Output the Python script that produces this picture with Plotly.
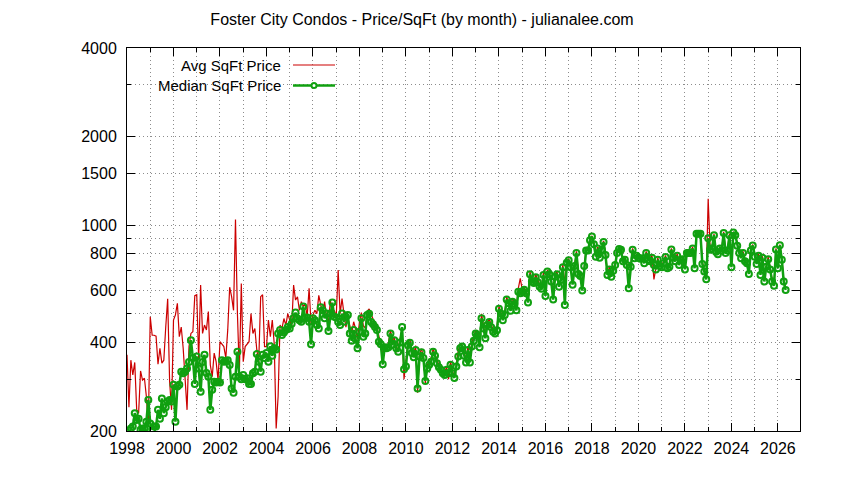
import plotly.graph_objects as go

# monthly values, Jan 1998 .. May 2026 (one row per year)
start_year = 1998

avg_price = [
    363, 241, 348, 310, 342, 236, 230, 320, 298, 302, 262, 207,   # 1998
    489, 423, 423, 420, 337, 382, 340, 348, 451, 563, 294, 236,   # 1999
    476, 496, 543, 418, 451, 382, 300, 236, 387, 429, 435, 577,   # 2000
    581, 348, 626, 429, 458, 441, 509, 335, 306, 368, 344, 298,   # 2001
    402, 396, 387, 354, 441, 616, 572, 514, 1046, 501, 314, 634,  # 2002
    344, 387, 396, 402, 501, 429, 446, 377, 344, 572, 581, 387,   # 2003
    387, 476, 418, 476, 396, 204, 262, 458, 446, 482, 458, 501,   # 2004
    476, 451, 626, 557, 571, 514, 550, 530, 543, 489, 611, 461,   # 2005
    496, 514, 501, 578, 536, 501, 550, 489, 469, 557, 496, 514,   # 2006
    489, 704, 501, 563, 501, 451, 483, 460, 430, 470, 445, 410,   # 2007
    470, 505, 455, 448, 510, 520, 495, 480, 470, 455, 420, 400,   # 2008
    360, 395, 380, 400, 440, 405, 415, 370, 385, 410, 445, 300,   # 2009
    345, 400, 410, 380, 365, 390, 270, 365, 380, 360, 290, 335,   # 2010
    345, 355, 380, 365, 350, 335, 330, 305, 318, 330, 300, 345,   # 2011
    320, 305, 340, 375, 395, 392, 372, 350, 388, 355, 400, 418,   # 2012
    440, 430, 400, 500, 455, 420, 470, 478, 462, 440, 438, 452,   # 2013
    530, 510, 485, 505, 570, 548, 520, 565, 550, 525, 610, 660,   # 2014
    605, 615, 600, 560, 695, 655, 645, 680, 650, 630, 620, 690,   # 2015
    590, 705, 690, 655, 575, 680, 695, 630, 660, 735, 630, 755,   # 2016
    770, 730, 640, 740, 815, 695, 680, 615, 735, 835, 830, 900,   # 2017
    920, 875, 795, 845, 785, 835, 885, 805, 690, 720, 680, 712,   # 2018
    745, 815, 840, 835, 765, 775, 745, 625, 735, 835, 785, 795,   # 2019
    785, 780, 785, 755, 815, 775, 765, 790, 655, 720, 775, 735,   # 2020
    730, 755, 790, 725, 735, 835, 785, 765, 800, 745, 775, 780,   # 2021
    720, 815, 815, 815, 845, 725, 940, 940, 940, 750, 710, 665,   # 2022
    1230, 835, 845, 935, 825, 810, 845, 830, 950, 815, 830, 935,  # 2023
    730, 950, 930, 860, 815, 785, 815, 765, 755, 695, 830, 860,   # 2024
    795, 750, 800, 690, 785, 655, 735, 780, 720, 655, 635, 835,   # 2025
    725, 860, 775, 655, 612,                                      # 2026
]

median_price = [
    190, 195, 204, 207, 230, 218, 220, 202, 204, 204, 215, 255,   # 1998
    212, 203, 207, 207, 236, 220, 258, 230, 241, 252, 255, 252,   # 1999
    287, 215, 283, 287, 318, 314, 318, 326, 343, 407, 354, 289,   # 2000
    358, 326, 272, 343, 363, 315, 306, 236, 276, 294, 292, 294,   # 2001
    292, 348, 344, 345, 348, 335, 279, 270, 306, 372, 306, 300,   # 2002
    310, 300, 302, 289, 289, 314, 318, 365, 344, 318, 363, 354,   # 2003
    368, 344, 388, 360, 382, 378, 429, 441, 424, 432, 441, 451,   # 2004
    446, 463, 484, 505, 482, 476, 470, 530, 483, 486, 470, 394,   # 2005
    483, 476, 458, 446, 527, 514, 483, 501, 437, 501, 546, 489,   # 2006
    486, 469, 458, 501, 470, 489, 496, 429, 405, 441, 410, 382,   # 2007
    435, 483, 418, 429, 496, 500, 469, 461, 451, 441, 402, 394,   # 2008
    337, 385, 382, 385, 429, 392, 407, 382, 372, 400, 451, 324,   # 2009
    331, 392, 399, 368, 356, 377, 279, 358, 370, 354, 296, 326,   # 2010
    336, 344, 372, 360, 340, 329, 323, 314, 310, 323, 314, 336,   # 2011
    314, 303, 331, 358, 382, 387, 360, 342, 377, 342, 387, 405,   # 2012
    429, 423, 385, 483, 446, 413, 458, 469, 450, 435, 429, 440,   # 2013
    520, 501, 476, 496, 559, 543, 512, 550, 540, 514, 594, 587,   # 2014
    594, 604, 587, 546, 682, 644, 636, 666, 640, 618, 608, 678,   # 2015
    575, 697, 682, 644, 559, 669, 682, 618, 652, 720, 536, 745,   # 2016
    760, 720, 628, 727, 805, 683, 672, 600, 727, 820, 820, 890,   # 2017
    915, 862, 782, 834, 776, 826, 877, 792, 678, 708, 669, 700,   # 2018
    733, 805, 830, 826, 754, 764, 733, 611, 723, 826, 773, 787,   # 2019
    776, 770, 773, 743, 805, 764, 754, 776, 733, 708, 764, 727,   # 2020
    720, 743, 780, 714, 723, 827, 776, 754, 787, 733, 764, 767,   # 2021
    708, 805, 805, 805, 834, 714, 935, 935, 935, 738, 697, 655,   # 2022
    904, 826, 834, 925, 812, 797, 834, 820, 941, 805, 820, 925,   # 2023
    720, 945, 925, 851, 805, 773, 805, 754, 743, 683, 820, 853,   # 2024
    782, 738, 787, 678, 776, 644, 723, 767, 708, 644, 623, 827,   # 2025
    714, 855, 764, 644, 603,                                      # 2026
]

x_ticks = list(range(1998, 2027, 2))
y_ticks = [200, 400, 600, 800, 1000, 1500, 2000, 4000]
y_minor = [300, 500, 700, 900, 3000]

months = [start_year + i / 12 for i in range(len(median_price))]

RED = "#cc0000"
GREEN = "#10a010"
GRID = "#8c8c8c"
DOTS = "1px,3px"
FONT = "Liberation Sans"
FS = 16

# the page adds an 8px body margin, so the layout is shifted by that much
W, H = 844, 480
ML, MT, PW, PH = 119, 40, 673, 383

fig = go.Figure()

fig.add_trace(go.Scatter(
    x=months, y=avg_price, mode="lines", name="Avg SqFt Price",
    line=dict(color=RED, width=1.2),
))
fig.add_trace(go.Scatter(
    x=months, y=median_price, mode="lines+markers", name="Median SqFt Price",
    line=dict(color=GREEN, width=2.5),
    marker=dict(symbol="circle-open", size=6, color=GREEN, line=dict(width=2, color=GREEN)),
))

axis_common = dict(
    showline=True, linecolor="black", linewidth=1, mirror="allticks",
    ticks="inside", ticklen=8, tickcolor="black", tickwidth=1,
    showgrid=True, gridcolor=GRID, griddash=DOTS, gridwidth=1,
    zeroline=False, tickfont=dict(family=FONT, size=FS, color="black"),
)

fig.update_xaxes(
    range=[1998, 2026.95], tickmode="array", tickvals=x_ticks,
    ticktext=[str(v) for v in x_ticks], ticklabelstandoff=3,
    minor=dict(dtick=1, tick0=1998, ticks="inside", ticklen=4, tickcolor="black",
               showgrid=True, gridcolor=GRID, griddash=DOTS, gridwidth=1),
    **axis_common,
)
fig.update_yaxes(
    type="log", range=[2.30103, 3.60206], tickmode="array", tickvals=y_ticks,
    ticktext=[str(v) for v in y_ticks], ticklabelstandoff=6,
    minor=dict(tickmode="array", tickvals=y_minor, ticks="inside", ticklen=4,
               tickcolor="black", showgrid=True, gridcolor=GRID, griddash=DOTS, gridwidth=1),
    **axis_common,
)

# gnuplot-style key: text right-aligned, sample to the right
key_text_x = (283 - 127) / PW
key_x0 = (293 - 127) / PW
key_x1 = (335 - 127) / PW
key_mid = (314 - 127) / PW
row1 = (431 - 65) / PH
row2 = (431 - 85.5) / PH
key_font = dict(family=FONT, size=15, color="black")

fig.update_layout(
    width=W, height=H,
    margin=dict(l=ML, r=W - ML - PW, t=MT, b=H - MT - PH),
    paper_bgcolor="white", plot_bgcolor="white",
    showlegend=False,
    font=dict(family=FONT, size=FS, color="black"),
    title=dict(text="Foster City Condos - Price/SqFt (by month) - julianalee.com",
               x=414 / W, xanchor="center", y=1 - 11 / H, yanchor="middle",
               font=dict(family=FONT, size=FS, color="black")),
    annotations=[
        dict(text="Avg SqFt Price", x=key_text_x, y=row1, xref="paper", yref="paper",
             xanchor="right", yanchor="middle", showarrow=False, font=key_font),
        dict(text="Median SqFt Price", x=key_text_x, y=row2, xref="paper", yref="paper",
             xanchor="right", yanchor="middle", showarrow=False, font=key_font),
    ],
    shapes=[
        dict(type="line", xref="paper", yref="paper", x0=key_x0, x1=key_x1, y0=row1, y1=row1,
             line=dict(color=RED, width=1.2)),
        dict(type="line", xref="paper", yref="paper", x0=key_x0, x1=key_x1, y0=row2, y1=row2,
             line=dict(color=GREEN, width=2.5)),
        dict(type="circle", xref="paper", yref="paper",
             x0=key_mid - 2.5 / PW, x1=key_mid + 2.5 / PW,
             y0=row2 - 2.5 / PH, y1=row2 + 2.5 / PH,
             line=dict(color=GREEN, width=2), fillcolor="white"),
    ],
)

fig.write_html("out.html")
